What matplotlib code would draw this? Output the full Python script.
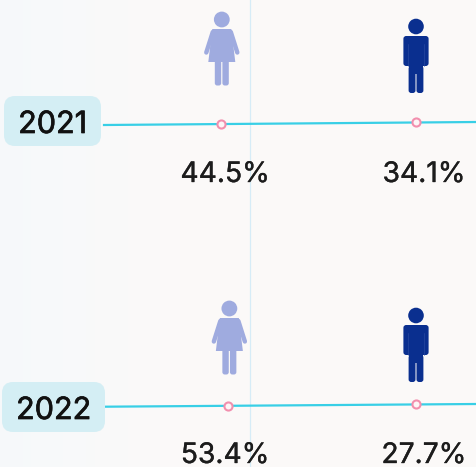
#!/usr/bin/env python
"""Women / men share by year, drawn with person icons on two timeline rows."""

import matplotlib
matplotlib.use('Agg')
import matplotlib.patheffects as pe
import matplotlib.pyplot as plt
import numpy as np
from matplotlib.patches import Circle, FancyBboxPatch, Polygon, Rectangle

years = ['2021', '2022']
women_share = [44.5, 53.4]
men_share = [34.1, 27.7]

WOMAN_COLOR = '#9fabdf'
MAN_COLOR = '#0a2f8f'
LINE_COLOR = '#38cfe6'
RING_COLOR = '#f28fae'
BOX_COLOR = '#d4eef4'
TEXT_COLOR = '#1c1c1c'

plt.rcParams['font.family'] = ['Inter', 'DejaVu Sans']

# row layout, in pixels of the picture
row_top = [0, 289]
line_left = [(104, 125.0), (105, 406.7)]
line_right = [122.0, 404.0]
box_rect = [(4, 96, 97, 50), (2, 382, 103, 50)]
label_base = [182, 463]
MAN_X = 416
WOMAN_LABEL_X = 225
MAN_LABEL_X = 424


def woman_x(value):
    """The women's marker moves a little with its value."""
    return 220.8 + (value - women_share[0]) * 0.85


def line_y(row, x):
    x0, y0 = line_left[row]
    return y0 + (line_right[row] - y0) * (x - x0) / (477 - x0)


def draw_woman(ax, cx, top):
    ax.add_patch(Circle((cx, top + 19.5), 7.9, fc=WOMAN_COLOR, ec='none'))
    # dress
    ax.add_patch(Polygon([(cx - 9.5, top + 29), (cx + 9.5, top + 29), (cx + 13.5, top + 62),
                          (cx - 13.5, top + 62)], fc=WOMAN_COLOR, ec='none'))
    # arms and legs
    for side in (-1, 1):
        ax.plot([cx + side * 9, cx + side * 15.5], [top + 32, top + 52.5], color=WOMAN_COLOR,
                lw=3.2, solid_capstyle='round')
        ax.add_patch(FancyBboxPatch((cx + (0.6 if side > 0 else -7.0), top + 60), 6.4, 25.5,
                                    boxstyle='round,pad=0,rounding_size=2.4',
                                    fc=WOMAN_COLOR, ec='none'))


def draw_man(ax, cx, top):
    ax.add_patch(Circle((cx, top + 26.5), 7.8, fc=MAN_COLOR, ec='none'))
    ax.add_patch(FancyBboxPatch((cx - 12.6, top + 36), 25.2, 30,
                                boxstyle='round,pad=0,rounding_size=2.8',
                                fc=MAN_COLOR, ec='none'))
    ax.add_patch(Rectangle((cx - 7.4, top + 50), 14.8, 24, fc=MAN_COLOR, ec='none'))
    for side in (-1, 1):
        ax.add_patch(FancyBboxPatch((cx + (0.5 if side > 0 else -7.4), top + 66), 6.9, 27,
                                    boxstyle='round,pad=0,rounding_size=2.6',
                                    fc=MAN_COLOR, ec='none'))
        # thin gaps between arm and torso
        ax.plot([cx + side * 8.0] * 2, [top + 44, top + 66], color='#2f4fa3', lw=0.4)


def main():
    fig = plt.figure(figsize=(4.77, 4.67), dpi=100)
    ax = fig.add_axes([0, 0, 1, 1])
    ax.set_xlim(0, 477)
    ax.set_ylim(467, 0)
    ax.axis('off')

    # background goes from pale blue on the left to warm white
    left = np.array([0.965, 0.976, 0.984])
    right = np.array([0.988, 0.980, 0.976])
    t = np.clip(np.linspace(0, 1, 477) / 0.4, 0, 1)[None, :, None]
    ax.imshow(left + (right - left) * t, extent=(0, 477, 467, 0), aspect='auto', zorder=0)

    ax.axvline(250.5, color='#d6ecf7', lw=0.9, zorder=1)

    thick = [pe.withStroke(linewidth=0.25, foreground=TEXT_COLOR)]
    for i, year in enumerate(years):
        top = row_top[i]
        wx = woman_x(women_share[i])

        ax.plot([line_left[i][0], 477], [line_left[i][1], line_right[i]],
                color=LINE_COLOR, lw=1.6, zorder=2)
        ax.scatter([wx, MAN_X], [line_y(i, wx), line_y(i, MAN_X)], s=34, fc='#fdf5f6',
                   ec=RING_COLOR, lw=1.5, zorder=3)

        x, y, w, h = box_rect[i]
        ax.add_patch(FancyBboxPatch((x, y), w, h, boxstyle='round,pad=0,rounding_size=11',
                                    fc=BOX_COLOR, ec='none', zorder=2))
        ax.text(x + w / 2, y + h / 2 + 1, year, ha='center', va='center_baseline', fontsize=22,
                color='#111111', zorder=3, path_effects=[pe.withStroke(linewidth=0.5, foreground='#111111')])

        draw_woman(ax, wx + 1, top)
        draw_man(ax, MAN_X, top)

        ax.text(WOMAN_LABEL_X, label_base[i], f'{women_share[i]}%', ha='center', va='baseline',
                fontsize=20.3, color=TEXT_COLOR, zorder=3, path_effects=thick)
        ax.text(MAN_LABEL_X, label_base[i], f'{men_share[i]}%', ha='center', va='baseline',
                fontsize=20.3, color=TEXT_COLOR, zorder=3, path_effects=thick)

    fig.savefig('out.png', dpi=100)
    plt.close(fig)


if __name__ == '__main__':
    main()
